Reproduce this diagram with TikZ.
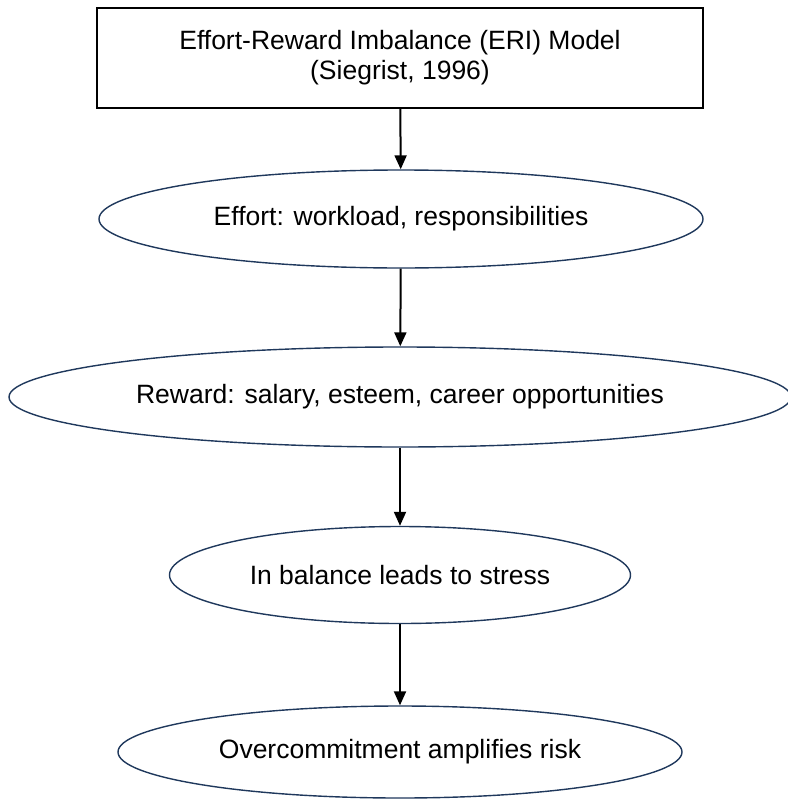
\documentclass[tikz,border=0pt]{standalone}
\usepackage{fontspec}
\setmainfont{Liberation Sans}
\usetikzlibrary{shapes.geometric,arrows.meta}
\definecolor{rimblue}{RGB}{31,56,92}
\tikzset{
  stage/.style={ellipse,draw=rimblue,line width=1.4pt,inner sep=0pt,
    font=\fontsize{26.5}{30}\selectfont},
  flow/.style={-{Triangle[length=14pt,width=12pt]},line width=2pt},
}
\begin{document}
\begin{tikzpicture}[x=1pt,y=-1pt]
      \useasboundingbox (0,0) rectangle (787,800);
      \node[draw,line width=1.3pt,minimum width=606pt,minimum height=100pt,
        align=center,font=\fontsize{26.5}{30}\selectfont] (model) at (400,58)
        {Effort-Reward Imbalance (ERI) Model\\(Siegrist, 1996)};
      \node[stage,minimum width=604pt,minimum height=98pt] (effort) at (401,219)
        {Effort: workload, responsibilities};
      \node[stage,minimum width=782pt,minimum height=100pt] (reward) at (400,397)
        {Reward: salary, esteem, career opportunities};
      \node[stage,minimum width=461pt,minimum height=97pt] (stress) at (400,575)
        {In balance leads to stress};
      \node[stage,minimum width=564pt,minimum height=92pt] (risk) at (400,752)
        {Overcommitment amplifies risk};
      \draw[flow] (model) -- (effort);
      \draw[flow] (effort) -- (reward);
      \draw[flow] (reward) -- (stress);
      \draw[flow] (stress) -- (risk);
    \end{tikzpicture}
\end{document}
